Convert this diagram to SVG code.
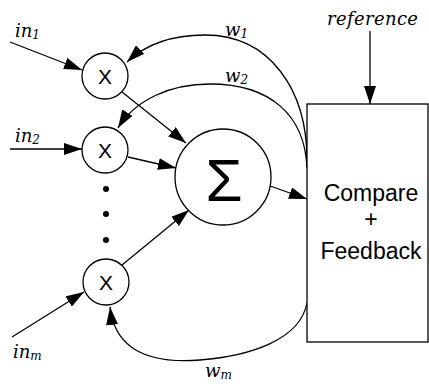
<svg xmlns="http://www.w3.org/2000/svg" width="429" height="384" viewBox="0 0 429 384">
<style>
.ln{fill:none;stroke:#000;stroke-width:1.3}
.nd{fill:#fff;stroke:#000;stroke-width:1.3}
.sans{font-family:"Liberation Sans",Arial,sans-serif;fill:#000}
.it{font-family:"DejaVu Serif",serif;font-style:italic;fill:#000;font-size:18px}
.sub{font-size:12px}
</style>
<defs>
<marker id="ah" viewBox="0 0 18 12" refX="18" refY="6" markerWidth="18" markerHeight="12" markerUnits="userSpaceOnUse" orient="auto">
<path d="M0,0 L18,6 L0,12 z" fill="#000"/>
</marker>
</defs>
<rect width="429" height="384" fill="#fff"/>
<g id="connectors">
<path class="ln" d="M10,42 L82,70" marker-end="url(#ah)"/>
<path class="ln" d="M10,149 L82,149" marker-end="url(#ah)"/>
<path class="ln" d="M12,337 L84,292" marker-end="url(#ah)"/>
<path class="ln" d="M122,92 L186,143" marker-end="url(#ah)"/>
<path class="ln" d="M128,157 L176,168" marker-end="url(#ah)"/>
<path class="ln" d="M122,265 L189,210" marker-end="url(#ah)"/>
<path class="ln" d="M270,186 L307,199" marker-end="url(#ah)"/>
<path class="ln" d="M370,31 L370,104" marker-end="url(#ah)"/>
<path class="ln" d="M307,160 C307,90 270,35 205,35 C170,35 145,45 127,62" marker-end="url(#ah)"/>
<path class="ln" d="M307,168 C305,115 270,84 210,84 C170,84 135,100 118,128" marker-end="url(#ah)"/>
<path class="ln" d="M307,303 C300,340 250,356 200,360 C150,364 115,350 110,307" marker-end="url(#ah)"/>
</g>
<g id="mul1"><circle class="nd" cx="105" cy="76" r="23"/><text class="sans" x="105" y="84" font-size="21" text-anchor="middle">X</text></g>
<g id="mul2"><circle class="nd" cx="105" cy="150" r="23"/><text class="sans" x="105" y="158" font-size="21" text-anchor="middle">X</text></g>
<g id="mulm"><circle class="nd" cx="106" cy="282" r="23"/><text class="sans" x="106" y="290" font-size="21" text-anchor="middle">X</text></g>
<g id="dots"><circle cx="106" cy="189" r="3"/><circle cx="106" cy="214" r="3"/><circle cx="106" cy="240" r="3"/></g>
<g id="sum"><circle class="nd" cx="223" cy="177" r="48"/><text class="sans" x="224" y="201" font-size="60" text-anchor="middle">Σ</text></g>
<g id="box"><rect class="nd" x="307" y="104" width="121" height="238"/>
<text class="sans" x="371" y="201" font-size="23" text-anchor="middle">Compare</text>
<text class="sans" x="371" y="227" font-size="23" text-anchor="middle">+</text>
<text class="sans" x="371" y="259" font-size="23" text-anchor="middle">Feedback</text></g>
<g id="labels">
<text class="it" x="15" y="37">in<tspan class="sub" dy="2">1</tspan></text>
<text class="it" x="15" y="142">in<tspan class="sub" dy="2">2</tspan></text>
<text class="it" x="13" y="358">in<tspan class="sub" dy="2">m</tspan></text>
<text class="it" x="225" y="36">w<tspan class="sub" dy="2">1</tspan></text>
<text class="it" x="225" y="82">w<tspan class="sub" dy="2">2</tspan></text>
<text class="it" x="205" y="377">w<tspan class="sub" dy="2">m</tspan></text>
<text class="it" x="327" y="25" textLength="91">reference</text>
</g>
</svg>
